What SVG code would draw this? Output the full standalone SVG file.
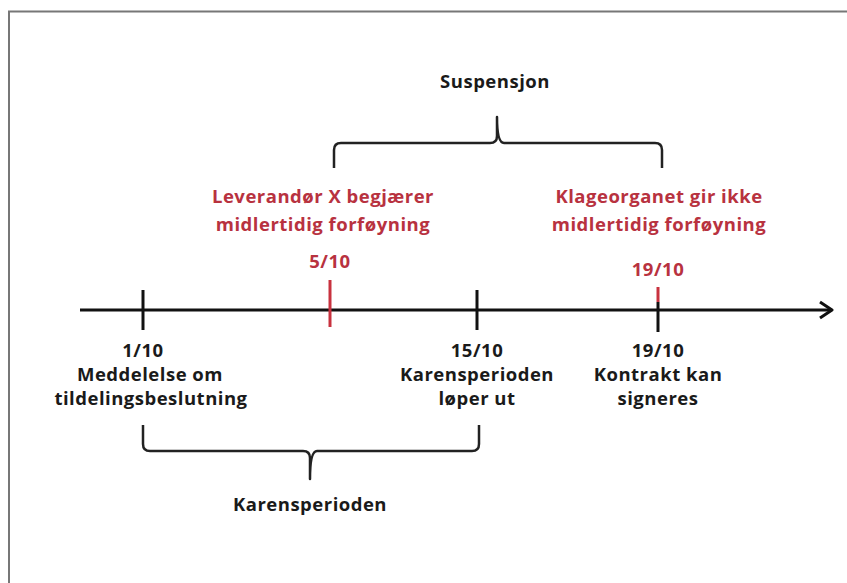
<svg xmlns="http://www.w3.org/2000/svg" width="847" height="583" viewBox="0 0 847 583">
<style>
.t{font-family:"Open Sans","Liberation Sans",sans-serif;font-weight:bold;font-size:18.5px;letter-spacing:0.5px;text-anchor:middle;fill:#1a1a1a}
.r{fill:#b8323f}
.ln{stroke:#111;stroke-width:3;fill:none}
.br{stroke:#222;stroke-width:2.5;fill:none;stroke-linejoin:round}
</style>
<defs>
<marker id="arr" viewBox="0 0 16 20" refX="14" refY="10" markerWidth="16" markerHeight="20" markerUnits="userSpaceOnUse" orient="auto">
<path d="M2,2 L14,10 L2,18" fill="none" stroke="#111" stroke-width="3" stroke-linejoin="round"/>
</marker>
</defs>
<rect width="847" height="583" fill="#fff"/>
<path d="M9,583 V11.5 H847" fill="none" stroke="#777" stroke-width="2"/>
<g id="connectors">
<line class="ln" x1="80" y1="310" x2="832" y2="310" marker-end="url(#arr)"/>
</g>
<g id="suspensjon">
<path class="br" d="M334,168 V150 Q334,143 341,143 H490 Q497,143 497,136 V117 Q497,143 504,143 H655 Q662,143 662,150 V168"/>
<text class="t" x="495" y="88">Suspensjon</text>
</g>
<g id="e-1-10">
<line class="ln" x1="143" y1="290" x2="143" y2="330"/>
<text class="t" x="143" y="357">1/10</text>
<text class="t" x="150" y="381">Meddelelse om</text>
<text class="t" x="151" y="405">tildelingsbeslutning</text>
</g>
<g id="e-5-10">
<line x1="330" y1="280" x2="330" y2="327" stroke="#c8323f" stroke-width="3"/>
<text class="t r" x="323" y="203">Leverandør X begjærer</text>
<text class="t r" x="323" y="231">midlertidig forføyning</text>
<text class="t r" x="330" y="268">5/10</text>
</g>
<g id="e-15-10">
<line class="ln" x1="477" y1="290" x2="477" y2="330"/>
<text class="t" x="477" y="357">15/10</text>
<text class="t" x="477" y="381">Karensperioden</text>
<text class="t" x="477" y="405">løper ut</text>
</g>
<g id="e-19-10">
<line x1="658" y1="287" x2="658" y2="302" stroke="#c8323f" stroke-width="3"/>
<line class="ln" x1="658" y1="302" x2="658" y2="332"/>
<text class="t r" x="659" y="203">Klageorganet gir ikke</text>
<text class="t r" x="659" y="231">midlertidig forføyning</text>
<text class="t r" x="658" y="276">19/10</text>
<text class="t" x="658" y="357">19/10</text>
<text class="t" x="658" y="381">Kontrakt kan</text>
<text class="t" x="658" y="405">signeres</text>
</g>
<g id="karensperioden">
<path class="br" d="M143,425 V444 Q143,451 150,451 H303 Q310,451 310,458 V479 Q310,451 317,451 H472 Q479,451 479,444 V425"/>
<text class="t" x="310" y="511">Karensperioden</text>
</g>
</svg>
